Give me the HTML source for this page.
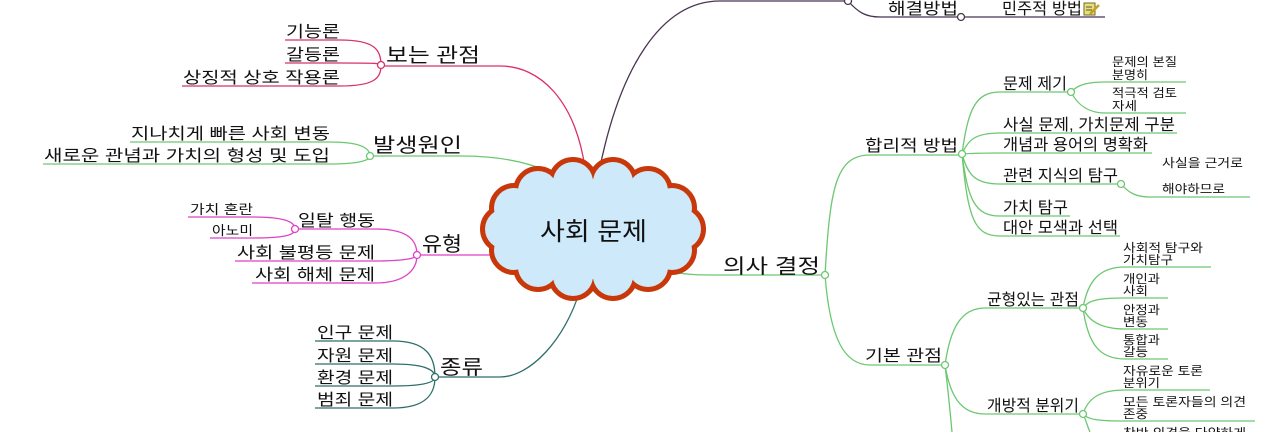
<!DOCTYPE html>
<html><head><meta charset="utf-8"><style>
html,body{margin:0;padding:0;background:#fff;width:1267px;height:432px;overflow:hidden}
text{font-family:"Liberation Sans","Noto Sans CJK KR",sans-serif;fill:#111}
.l{font-size:20px}.m{font-size:16px}.s{font-size:12px}
path{fill:none}
</style></head><body>
<svg width="1267" height="432" viewBox="0 0 1267 432" xmlns="http://www.w3.org/2000/svg">
<!-- 보는 관점 (pink) -->
<g stroke="#d8306b" stroke-width="1.3">
<path d="M585 168 C575 100 540 66 500 66 H381"/>
<path d="M285 40 H340 C375 40 381 50 381 65"/>
<path d="M285 63 H340 C370 63 381 63 381 65"/>
<path d="M182 86 H340 C375 86 381 78 381 65"/>
<circle cx="381" cy="65" r="3.5" fill="#fff"/>
</g>
<text class="l" x="386" y="62" textLength="94" lengthAdjust="spacingAndGlyphs">보는 관점</text>
<text class="m" x="286" y="37" textLength="54" lengthAdjust="spacingAndGlyphs">기능론</text>
<text class="m" x="286" y="60" textLength="54" lengthAdjust="spacingAndGlyphs">갈등론</text>
<text class="m" x="183" y="83" textLength="157" lengthAdjust="spacingAndGlyphs">상징적 상호 작용론</text>
<!-- 발생원인 (green) -->
<g stroke="#6cc870" stroke-width="1.3">
<path d="M545 170 C520 160 490 156 462 156 H370"/>
<path d="M130 142 H330 C360 142 370 148 370 156"/>
<path d="M43 164 H330 C360 164 370 160 370 156"/>
<circle cx="370" cy="156" r="3.5" fill="#fff"/>
</g>
<text class="l" x="373" y="152" textLength="89" lengthAdjust="spacingAndGlyphs">발생원인</text>
<text class="m" x="131" y="139" textLength="199" lengthAdjust="spacingAndGlyphs">지나치게 빠른 사회 변동</text>
<text class="m" x="44" y="161" textLength="286" lengthAdjust="spacingAndGlyphs">새로운 관념과 가치의 형성 및 도입</text>
<!-- 유형 (magenta) -->
<g stroke="#e040c8" stroke-width="1.3">
<path d="M490 255 H417"/>
<path d="M295 229 H375 C408 229 417 240 417 255"/>
<path d="M235 261 H375 C405 261 417 258 417 255"/>
<path d="M252 283 H375 C405 283 417 270 417 255"/>
<path d="M188 217 H253 C285 217 295 222 295 229"/>
<path d="M210 238 H253 C285 238 295 235 295 229"/>
<circle cx="417" cy="255" r="3.5" fill="#fff"/>
<circle cx="295" cy="229" r="3.5" fill="#fff"/>
</g>
<text class="l" x="422" y="251" textLength="40" lengthAdjust="spacingAndGlyphs">유형</text>
<text class="m" x="298" y="226" textLength="77" lengthAdjust="spacingAndGlyphs">일탈 행동</text>
<text class="s" x="190" y="214" style="font-size:13px" textLength="63" lengthAdjust="spacingAndGlyphs">가치 혼란</text>
<text class="s" x="212" y="235" style="font-size:13px" textLength="41" lengthAdjust="spacingAndGlyphs">아노미</text>
<text class="m" x="237" y="258" textLength="138" lengthAdjust="spacingAndGlyphs">사회 불평등 문제</text>
<text class="m" x="255" y="280" textLength="120" lengthAdjust="spacingAndGlyphs">사회 해체 문제</text>
<!-- 종류 (teal) -->
<g stroke="#2f6f6a" stroke-width="1.3">
<path d="M580 290 C565 340 530 377 500 377 H435"/>
<path d="M315 341 H393 C425 341 435 355 435 377"/>
<path d="M315 364 H393 C425 364 435 370 435 377"/>
<path d="M315 386 H393 C425 386 435 382 435 377"/>
<path d="M315 408 H393 C425 408 435 395 435 377"/>
<circle cx="435" cy="377" r="3.5" fill="#fff"/>
</g>
<text class="l" x="440" y="374" textLength="43" lengthAdjust="spacingAndGlyphs">종류</text>
<text class="m" x="317" y="338" textLength="76" lengthAdjust="spacingAndGlyphs">인구 문제</text>
<text class="m" x="317" y="361" textLength="76" lengthAdjust="spacingAndGlyphs">자원 문제</text>
<text class="m" x="317" y="383" textLength="76" lengthAdjust="spacingAndGlyphs">환경 문제</text>
<text class="m" x="317" y="405" textLength="76" lengthAdjust="spacingAndGlyphs">범죄 문제</text>
<!-- 해결방법 (dark purple) -->
<g stroke="#4a3550" stroke-width="1.3">
<path d="M600 167 C620 70 660 1 720 1 H848"/>
<path d="M848 1 C858 12 865 17 880 17 H1105"/>
<circle cx="848" cy="1" r="3.5" fill="#fff"/>
<circle cx="961" cy="17" r="3.5" fill="#fff"/>
</g>
<text class="m" x="888" y="14" textLength="70" lengthAdjust="spacingAndGlyphs">해결방법</text>
<text class="m" x="1002" y="14" textLength="80" lengthAdjust="spacingAndGlyphs">민주적 방법</text>
<g transform="translate(1084,3)"><rect x="0" y="0" width="11" height="12" fill="#e8e070" stroke="#6a6a30" stroke-width="1"/><line x1="2" y1="4" x2="8" y2="4" stroke="#555"/><line x1="2" y1="7" x2="8" y2="7" stroke="#555"/><path d="M6 11 L15 2" stroke="#c8a020" stroke-width="2.5"/></g>
<!-- 의사 결정 (green) -->
<g stroke="#6cc870" stroke-width="1.3">
<path d="M672 272 C690 275 700 275 720 275 H825"/>
<path d="M825 275 C830 190 835 155 870 155 H962"/>
<path d="M825 275 C830 340 845 365 870 365 H945"/>
<path d="M945 365 C948 390 950 410 952 432"/>
<path d="M962 154 C968 110 975 92 1000 92 H1071"/>
<path d="M962 154 C968 140 975 133 1000 133 H1177"/>
<path d="M962 154 C975 153 985 153 1000 153 H1152"/>
<path d="M962 154 C968 175 975 184 1000 184 H1121"/>
<path d="M962 154 C968 200 975 216 1000 216 H1070"/>
<path d="M962 154 C968 220 975 236 1000 236 H1120"/>
<path d="M1071 92 C1078 84 1090 82 1105 82 H1186"/>
<path d="M1071 92 C1078 106 1090 113 1105 113 H1186"/>
<path d="M1121 184 C1128 192 1135 197 1150 197 H1250"/>
<path d="M945 365 C950 330 960 308 985 308 H1083"/>
<path d="M945 365 C950 395 960 414 985 414 H1083"/>
<path d="M1083 308 C1088 280 1100 267 1125 267 H1211"/>
<path d="M1083 308 C1088 300 1100 298 1125 298 H1168"/>
<path d="M1083 308 C1088 320 1100 329 1125 329 H1168"/>
<path d="M1083 308 C1088 345 1100 359 1125 359 H1168"/>
<path d="M1083 414 C1088 398 1100 390 1125 390 H1210"/>
<path d="M1083 414 C1088 420 1100 421 1125 421 H1255"/>
<path d="M1083 414 C1086 420 1088 428 1090 432"/>
<g fill="#fff">
<circle cx="825" cy="275" r="3.5"/><circle cx="962" cy="154" r="3.5"/><circle cx="945" cy="365" r="3.5"/>
<circle cx="1071" cy="92" r="3.5"/><circle cx="1121" cy="184" r="3.5"/><circle cx="1083" cy="308" r="3.5"/><circle cx="1083" cy="414" r="3.5"/>
</g>
</g>
<text class="l" x="723" y="273" textLength="97" lengthAdjust="spacingAndGlyphs">의사 결정</text>
<text class="m" x="865" y="151" textLength="93" lengthAdjust="spacingAndGlyphs">합리적 방법</text>
<text class="m" x="865" y="361" textLength="77" lengthAdjust="spacingAndGlyphs">기본 관점</text>
<text class="m" x="1003" y="89" textLength="64" lengthAdjust="spacingAndGlyphs">문제 제기</text>
<text class="s" x="1112" y="66" textLength="65" lengthAdjust="spacingAndGlyphs">문제의 본질</text>
<text class="s" x="1112" y="79" textLength="36" lengthAdjust="spacingAndGlyphs">분명히</text>
<text class="s" x="1112" y="97" textLength="65" lengthAdjust="spacingAndGlyphs">적극적 검토</text>
<text class="s" x="1112" y="110" textLength="25" lengthAdjust="spacingAndGlyphs">자세</text>
<text class="m" x="1003" y="130" textLength="172" lengthAdjust="spacingAndGlyphs">사실 문제, 가치문제 구분</text>
<text class="m" x="1003" y="150" textLength="145" lengthAdjust="spacingAndGlyphs">개념과 용어의 명확화</text>
<text class="m" x="1003" y="181" textLength="115" lengthAdjust="spacingAndGlyphs">관련 지식의 탐구</text>
<text class="s" x="1162" y="167" textLength="81" lengthAdjust="spacingAndGlyphs">사실을 근거로</text>
<text class="s" x="1162" y="193" textLength="63" lengthAdjust="spacingAndGlyphs">해야하므로</text>
<text class="m" x="1003" y="213" textLength="65" lengthAdjust="spacingAndGlyphs">가치 탐구</text>
<text class="m" x="1003" y="233" textLength="115" lengthAdjust="spacingAndGlyphs">대안 모색과 선택</text>
<text class="m" x="987" y="305" textLength="92" lengthAdjust="spacingAndGlyphs">균형있는 관점</text>
<text class="m" x="987" y="411" textLength="92" lengthAdjust="spacingAndGlyphs">개방적 분위기</text>
<text class="s" x="1123" y="252" textLength="80" lengthAdjust="spacingAndGlyphs">사회적 탐구와</text>
<text class="s" x="1123" y="264" textLength="50" lengthAdjust="spacingAndGlyphs">가치탐구</text>
<text class="s" x="1123" y="283" textLength="37" lengthAdjust="spacingAndGlyphs">개인과</text>
<text class="s" x="1123" y="295" textLength="25" lengthAdjust="spacingAndGlyphs">사회</text>
<text class="s" x="1123" y="314" textLength="37" lengthAdjust="spacingAndGlyphs">안정과</text>
<text class="s" x="1123" y="326" textLength="25" lengthAdjust="spacingAndGlyphs">변동</text>
<text class="s" x="1123" y="344" textLength="37" lengthAdjust="spacingAndGlyphs">통합과</text>
<text class="s" x="1123" y="356" textLength="25" lengthAdjust="spacingAndGlyphs">갈등</text>
<text class="s" x="1123" y="375" textLength="80" lengthAdjust="spacingAndGlyphs">자유로운 토론</text>
<text class="s" x="1123" y="387" textLength="37" lengthAdjust="spacingAndGlyphs">분위기</text>
<text class="s" x="1123" y="406" textLength="123" lengthAdjust="spacingAndGlyphs">모든 토론자들의 의견</text>
<text class="s" x="1123" y="418" textLength="25" lengthAdjust="spacingAndGlyphs">존중</text>
<text class="s" x="1123" y="437" textLength="123" lengthAdjust="spacingAndGlyphs">찬반 의견을 다양하게</text>
<!-- cloud -->
<g stroke="#c8380a" stroke-width="6" fill="#c8380a">
<circle cx="681" cy="229" r="22"/><circle cx="672" cy="250" r="22"/><circle cx="648" cy="267" r="22"/><circle cx="613" cy="276" r="22"/><circle cx="573" cy="276" r="22"/><circle cx="538" cy="267" r="22"/><circle cx="514" cy="250" r="22"/><circle cx="505" cy="229" r="22"/><circle cx="514" cy="208" r="22"/><circle cx="538" cy="191" r="22"/><circle cx="573" cy="182" r="22"/><circle cx="613" cy="182" r="22"/><circle cx="648" cy="191" r="22"/><circle cx="672" cy="208" r="22"/>
</g>
<g fill="#cde9fa">
<circle cx="681" cy="229" r="20"/><circle cx="672" cy="250" r="20"/><circle cx="648" cy="267" r="20"/><circle cx="613" cy="276" r="20"/><circle cx="573" cy="276" r="20"/><circle cx="538" cy="267" r="20"/><circle cx="514" cy="250" r="20"/><circle cx="505" cy="229" r="20"/><circle cx="514" cy="208" r="20"/><circle cx="538" cy="191" r="20"/><circle cx="573" cy="182" r="20"/><circle cx="613" cy="182" r="20"/><circle cx="648" cy="191" r="20"/><circle cx="672" cy="208" r="20"/>
<ellipse cx="593" cy="229" rx="90" ry="50"/>
</g>
<text x="540" y="240" style="font-size:25px" textLength="107" lengthAdjust="spacingAndGlyphs">사회 문제</text>
</svg>
</body></html>
